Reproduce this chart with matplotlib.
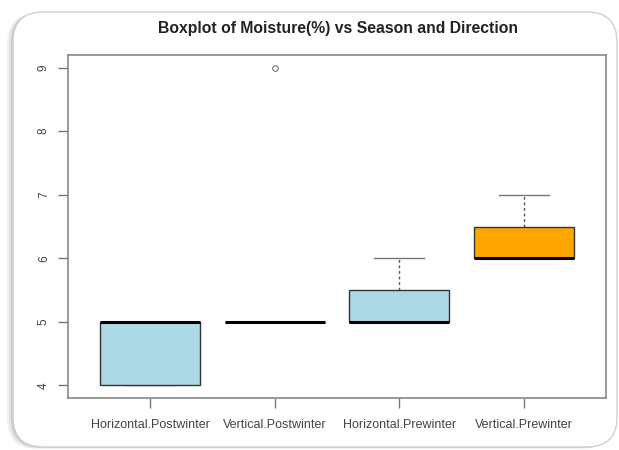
import matplotlib.pyplot as plt
from matplotlib.patches import FancyBboxPatch

plt.rcParams['font.family'] = ['Liberation Sans', 'DejaVu Sans']

groups = ['Horizontal.Postwinter', 'Vertical.Postwinter',
          'Horizontal.Prewinter', 'Vertical.Prewinter']
q1 = [4, 5, 5, 6]
med = [5, 5, 5, 6]
q3 = [5, 5, 5.5, 6.5]
whislo = [4, 5, 5, 6]
whishi = [5, 5, 6, 7]
fliers = [[], [9], [], []]
colors = ['#ADD8E6', '#ADD8E6', '#ADD8E6', '#FFA500']

fig = plt.figure(figsize=(6.19, 4.5), dpi=100)

# rounded frame with a soft shadow, like the screenshot
for off, a in [(0.06, 0.10), (0.04, 0.15), (0.02, 0.25)]:
    sh = FancyBboxPatch((0.13 - off, 0.03 - off * 0.3), 6.04, 4.35,
                        boxstyle='round,pad=0,rounding_size=0.3',
                        transform=fig.dpi_scale_trans, facecolor='#888888',
                        edgecolor='none', alpha=a, zorder=0)
    fig.patches.append(sh)
frame = FancyBboxPatch((0.13, 0.03), 6.04, 4.35,
                       boxstyle='round,pad=0,rounding_size=0.3',
                       transform=fig.dpi_scale_trans, facecolor='white',
                       edgecolor='#d0d0d0', linewidth=1.0, zorder=1)
fig.patches.append(frame)

ax = fig.add_axes([68 / 619, 1 - 398 / 450, (606 - 68) / 619, (398 - 55) / 450])
ax.set_zorder(2)
ax.patch.set_alpha(0)

stats = []
for i in range(len(groups)):
    stats.append(dict(label=groups[i], q1=q1[i], med=med[i], q3=q3[i],
                      whislo=whislo[i], whishi=whishi[i], fliers=fliers[i]))

bp = ax.bxp(stats, positions=range(1, 5), widths=0.8, patch_artist=True,
            boxprops=dict(edgecolor='#333333', linewidth=1.0, zorder=3),
            medianprops=dict(color='black', linewidth=2.2, solid_capstyle='butt', zorder=4),
            whiskerprops=dict(color='#555555', linestyle=(0, (2, 2)), linewidth=1.0, zorder=1),
            capprops=dict(color='#777777', linewidth=1.0, zorder=1),
            flierprops=dict(marker='o', markersize=4, markerfacecolor='none',
                            markeredgecolor='#777777', markeredgewidth=0.8),
            capwidths=0.4)
for patch, c in zip(bp['boxes'], colors):
    patch.set_facecolor(c)

ax.set_xlim(0.34, 4.66)
ax.set_ylim(3.8, 9.2)
ax.set_yticks([4, 5, 6, 7, 8, 9])
ax.set_yticklabels(['4', '5', '6', '7', '8', '9'], rotation=90, va='center')
ax.tick_params(axis='y', length=7, width=1, color='#777777', labelcolor='#444444',
               labelsize=8.5, pad=6)
ax.tick_params(axis='x', length=7, width=1, color='#777777', labelcolor='#444444',
               labelsize=9, pad=8)
for s in ax.spines.values():
    s.set_color('#888888')
    s.set_linewidth(1.2)

fig.text(338 / 619, 1 - 29 / 450, 'Boxplot of Moisture(%) vs Season and Direction',
         ha='center', va='center', fontsize=11.3, fontweight='bold', color='#222222')

fig.savefig('out.png', dpi=100)
